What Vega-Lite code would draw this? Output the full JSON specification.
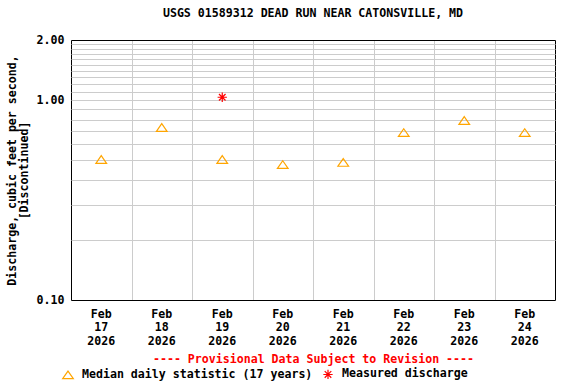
{
  "$schema": "https://vega.github.io/schema/vega-lite/v6.json",
  "width": 484,
  "height": 260,
  "autosize": {"type": "none"},
  "padding": {"left": 71, "top": 40, "right": 21, "bottom": 84},
  "background": "white",
  "config": {"view": {"stroke": null}},
  "title": {
    "text": "USGS 01589312 DEAD RUN NEAR CATONSVILLE, MD",
    "font": "DejaVu Sans Mono",
    "fontSize": 11.6,
    "fontWeight": "bold",
    "color": "black",
    "anchor": "middle",
    "offset": 14
  },
  "data": {
    "values": [
      {"date": "2026-02-17T12:00:00Z", "value": 0.505, "series": "Median daily statistic (17 years)"},
      {"date": "2026-02-18T12:00:00Z", "value": 0.73, "series": "Median daily statistic (17 years)"},
      {"date": "2026-02-19T12:00:00Z", "value": 0.505, "series": "Median daily statistic (17 years)"},
      {"date": "2026-02-20T12:00:00Z", "value": 0.476, "series": "Median daily statistic (17 years)"},
      {"date": "2026-02-21T12:00:00Z", "value": 0.488, "series": "Median daily statistic (17 years)"},
      {"date": "2026-02-22T12:00:00Z", "value": 0.688, "series": "Median daily statistic (17 years)"},
      {"date": "2026-02-23T12:00:00Z", "value": 0.791, "series": "Median daily statistic (17 years)"},
      {"date": "2026-02-24T12:00:00Z", "value": 0.688, "series": "Median daily statistic (17 years)"},
      {"date": "2026-02-19T12:00:00Z", "value": 1.034, "series": "Measured discharge"}
    ]
  },
  "mark": {"type": "point", "filled": false, "strokeWidth": 1.2, "opacity": 1, "size": 114},
  "encoding": {
    "x": {
      "field": "date",
      "type": "temporal",
      "scale": {
        "type": "utc",
        "domain": [
          {"year": 2026, "month": 2, "date": 17, "utc": true},
          {"year": 2026, "month": 2, "date": 25, "utc": true}
        ]
      },
      "axis": {
        "values": [
          {"year": 2026, "month": 2, "date": 17, "utc": true},
          {"year": 2026, "month": 2, "date": 18, "utc": true},
          {"year": 2026, "month": 2, "date": 19, "utc": true},
          {"year": 2026, "month": 2, "date": 20, "utc": true},
          {"year": 2026, "month": 2, "date": 21, "utc": true},
          {"year": 2026, "month": 2, "date": 22, "utc": true},
          {"year": 2026, "month": 2, "date": 23, "utc": true},
          {"year": 2026, "month": 2, "date": 24, "utc": true},
          {"year": 2026, "month": 2, "date": 25, "utc": true}
        ],
        "labelExpr": "utcdate(datum.value) == 25 ? '' : [utcFormat(datum.value, '%b'), utcFormat(datum.value, '%d'), utcFormat(datum.value, '%Y')]",
        "labelOffset": 29.8,
        "labelFlush": false,
        "labelOverlap": false,
        "labelFont": "DejaVu Sans Mono",
        "labelFontSize": 11.6,
        "labelFontWeight": "bold",
        "labelColor": "black",
        "labelLineHeight": 13.5,
        "labelPadding": 8,
        "ticks": false,
        "domain": false,
        "grid": true,
        "gridColor": {"condition": {"test": "utcdate(datum.value) == 17 || utcdate(datum.value) == 25", "value": "black"}, "value": "#cccccc"},
        "gridWidth": 1,
        "gridOpacity": 1,
        "title": "---- Provisional Data Subject to Revision ----",
        "titleFont": "DejaVu Sans Mono",
        "titleFontSize": 11.6,
        "titleFontWeight": "bold",
        "titleColor": "#ff0000",
        "titlePadding": 7
      }
    },
    "y": {
      "field": "value",
      "type": "quantitative",
      "scale": {"type": "log", "domain": [0.1, 2], "nice": false},
      "axis": {
        "values": [0.1, 0.2, 0.3, 0.4, 0.5, 0.6, 0.7, 0.8, 0.9, 1, 1.1, 1.2, 1.3, 1.4, 1.5, 1.6, 1.7, 1.8, 1.9, 2],
        "labelExpr": "(datum.value == 0.1 || datum.value == 1 || datum.value == 2) ? format(datum.value, '.2f') : ''",
        "labelFlush": false,
        "labelOverlap": false,
        "labelFont": "DejaVu Sans Mono",
        "labelFontSize": 11.6,
        "labelFontWeight": "bold",
        "labelColor": "black",
        "labelPadding": 7,
        "ticks": false,
        "domain": false,
        "grid": true,
        "gridColor": {"condition": {"test": "datum.value == 0.1 || datum.value == 2", "value": "black"}, "value": "#cccccc"},
        "gridWidth": 1,
        "gridOpacity": 1,
        "title": ["Discharge, cubic feet per second,", "[Discontinued]"],
        "titleFont": "DejaVu Sans Mono",
        "titleFontSize": 11.6,
        "titleFontWeight": "bold",
        "titleColor": "black",
        "titleLineHeight": 12,
        "titlePadding": 7
      }
    },
    "color": {
      "field": "series",
      "type": "nominal",
      "scale": {
        "domain": ["Median daily statistic (17 years)", "Measured discharge"],
        "range": ["#ffa500", "#ff0000"]
      },
      "legend": {
        "title": null,
        "orient": "none",
        "direction": "horizontal",
        "legendX": -9,
        "legendY": 328,
        "padding": 0,
        "labelFont": "DejaVu Sans Mono",
        "labelFontSize": 11.6,
        "labelFontWeight": "bold",
        "labelColor": "black",
        "labelLimit": 0,
        "labelOffset": 8,
        "columnPadding": 7,
        "symbolSize": 114,
        "symbolStrokeWidth": 1.2
      }
    },
    "shape": {
      "field": "series",
      "type": "nominal",
      "scale": {
        "domain": ["Median daily statistic (17 years)", "Measured discharge"],
        "range": ["M0,-0.72L1,0.72L-1,0.72Z", "M-0.87,0L0.87,0M0,-0.87L0,0.87M-0.615,-0.615L0.615,0.615M-0.615,0.615L0.615,-0.615"]
      }
    }
  }
}
